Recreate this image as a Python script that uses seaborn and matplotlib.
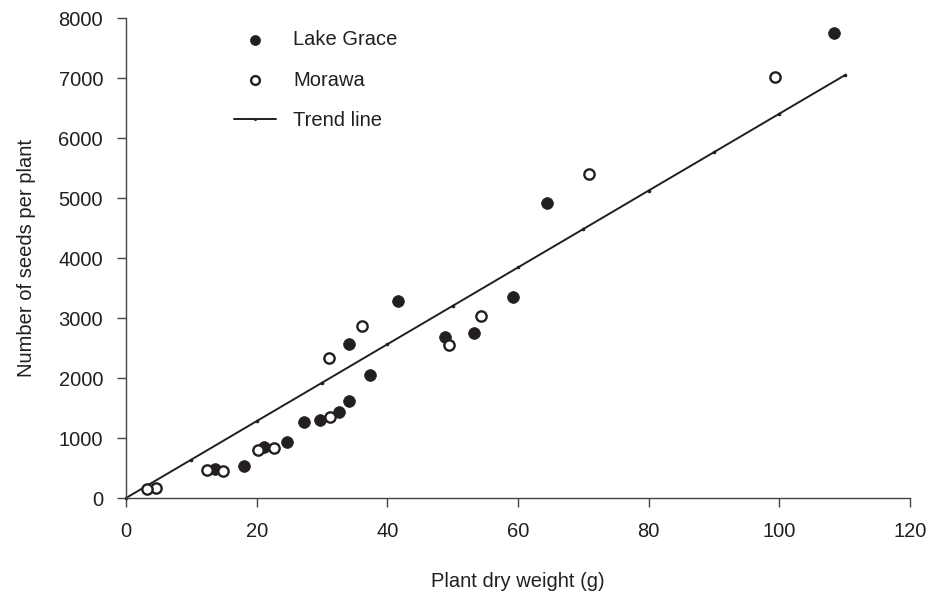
import matplotlib
matplotlib.use("Agg")
import matplotlib.pyplot as plt
import seaborn as sns
import pandas as pd

# Lake Grace (filled circles)
lake_x = [108.3, 64.5, 59.3, 53.3, 48.8, 41.6, 37.4, 34.2, 34.2, 32.6, 29.7, 27.3, 24.7, 21.1, 18.1, 13.6]
lake_y = [7745, 4910, 3356, 2752, 2690, 3290, 2050, 2575, 1617, 1440, 1295, 1265, 930, 846, 540, 489]

# Morawa (open circles)
mor_x = [99.3, 70.9, 54.4, 49.4, 36.1, 31.1, 31.3, 22.6, 20.2, 14.9, 12.4, 4.6, 3.2]
mor_y = [7020, 5404, 3035, 2545, 2860, 2340, 1357, 835, 806, 456, 462, 170, 148]

# Trend line
trend_x = [0, 10, 20, 30, 40, 50, 60, 70, 80, 90, 100, 110]
trend_y = [0, 640, 1281, 1921, 2562, 3202, 3843, 4483, 5124, 5764, 6405, 7045]

x_ticks = [0, 20, 40, 60, 80, 100, 120]
y_ticks = [0, 1000, 2000, 3000, 4000, 5000, 6000, 7000, 8000]

sns.set_style("ticks")
plt.rcParams['font.family'] = ['Liberation Sans', 'DejaVu Sans']

FS = 14.5
INK = "#231f20"

fig = plt.figure(figsize=(9.41, 5.94), dpi=100)
ax = fig.add_axes([126 / 941, 96 / 594, 784 / 941, 480 / 594])

lake = pd.DataFrame({"x": lake_x, "y": lake_y})
mor = pd.DataFrame({"x": mor_x, "y": mor_y})
trend = pd.DataFrame({"x": trend_x, "y": trend_y})

sns.lineplot(data=trend, x="x", y="y", ax=ax, color=INK, linewidth=1.4,
             marker="o", markersize=2.6, markeredgewidth=0, label="Trend line",
             clip_on=False, zorder=2)
sns.scatterplot(data=lake, x="x", y="y", ax=ax, color=INK, s=72,
                edgecolor=INK, linewidth=0.5, label="Lake Grace", zorder=3)
sns.scatterplot(data=mor, x="x", y="y", ax=ax, facecolor="white", s=55,
                edgecolor=INK, linewidth=1.7, label="Morawa", zorder=4)

ax.set_xlim(0, 120)
ax.set_ylim(0, 8000)
ax.set_xticks(x_ticks)
ax.set_yticks(y_ticks)
ax.tick_params(axis="both", labelsize=FS, length=6.5, width=1, color="#444444",
               labelcolor=INK, direction="out")
ax.tick_params(axis="x", pad=11)
ax.tick_params(axis="y", pad=10)
for s in ["top", "right"]:
    ax.spines[s].set_visible(False)
for s in ["left", "bottom"]:
    ax.spines[s].set_linewidth(1.0)
    ax.spines[s].set_color("#444444")

ax.set_xlabel("Plant dry weight (g)", fontsize=FS, color=INK, labelpad=22)
ax.set_ylabel("Number of seeds per plant", fontsize=FS, color=INK, labelpad=16)

handles, labels = ax.get_legend_handles_labels()
order = [labels.index("Lake Grace"), labels.index("Morawa"), labels.index("Trend line")]
leg = ax.legend([handles[i] for i in order], [labels[i] for i in order],
                loc="upper left", bbox_to_anchor=(0.1378, 0.974), frameon=False,
                fontsize=FS, handlelength=2.1, handletextpad=0.85, labelspacing=1.05,
                borderpad=0, borderaxespad=0, markerscale=0.85)
for t in leg.get_texts():
    t.set_color(INK)

fig.savefig("out.png", dpi=100)
